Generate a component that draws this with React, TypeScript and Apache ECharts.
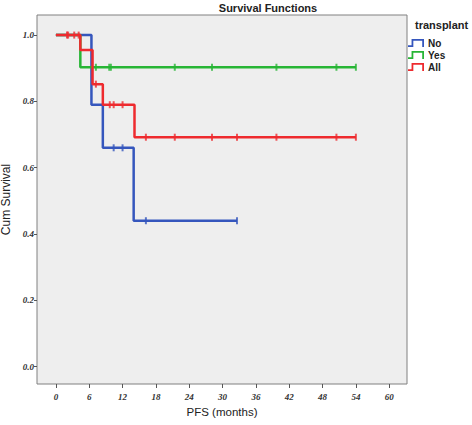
import React, { useEffect, useRef } from "react";
import * as echarts from "echarts";

const xTicks: number[] = [0, 6, 12, 18, 24, 30, 36, 42, 48, 54, 60];
const yTicks: number[] = [0, 0.2, 0.4, 0.6, 0.8, 1.0];

const groupNames: string[] = ["No", "Yes", "All"];
const groupColors: string[] = ["#3556BD", "#27B535", "#EE2A2E"];

// Kaplan–Meier steps: [time, survival after event]
const noSteps: [number, number][] = [[0, 1], [6.4, 0.79], [8.45, 0.66], [14.0, 0.44], [32.6, 0.44]];
const yesSteps: [number, number][] = [[0, 1], [4.4, 0.903], [54.0, 0.903]];
const allSteps: [number, number][] = [[0, 1], [4.4, 0.955], [6.6, 0.852], [8.45, 0.79], [14.15, 0.692], [54.0, 0.692]];

// censoring times
const noCensor: number[] = [10.4, 12.0, 16.2, 32.6];
const yesCensor: number[] = [7.2, 9.6, 9.9, 21.4, 28.1, 39.7, 50.5, 54.0];
const allCensor: number[] = [2.0, 2.2, 3.3, 4.1, 7.2, 9.7, 10.4, 12.0, 16.2, 21.4, 28.1, 32.6, 39.7, 50.5, 54.0];

function survAt(steps: [number, number][], t: number): number {
  let s = 1;
  for (const [tt, v] of steps) {
    if (tt <= t) s = v;
  }
  return s;
}

const stepsList = [noSteps, yesSteps, allSteps];
const censorList = [noCensor, yesCensor, allCensor];

const legendIcon = "path://M0,7L4,7L4,0L18,0L18,9L16,9L16,2L6,2L6,9L0,9Z";

export default function App() {
  const ref = useRef<HTMLDivElement>(null);
  useEffect(() => {
    if (!ref.current) return;
    const chart = echarts.init(ref.current, undefined, { renderer: "svg" });
    const series: any[] = [];
    groupNames.forEach((name, i) => {
      series.push({
        name,
        type: "line",
        step: "end",
        data: stepsList[i],
        showSymbol: false,
        symbol: "none",
        lineStyle: { color: groupColors[i], width: 2.5 },
        itemStyle: { color: groupColors[i] },
        z: 2 + i,
      });
    });
    groupNames.forEach((name, i) => {
      series.push({
        name: name + " censored",
        type: "scatter",
        data: censorList[i].map((t) => [t, survAt(stepsList[i], t)]),
        symbol: "rect",
        symbolSize: [2, 7],
        itemStyle: { color: groupColors[i] },
        z: 5 + i,
      });
    });
    chart.setOption({
      animation: false,
      backgroundColor: "#ffffff",
      title: [
        {
          text: "Survival Functions",
          left: 268,
          top: 2,
          padding: 0,
          textAlign: "center",
          textStyle: { fontFamily: "Liberation Sans", fontSize: 11, fontWeight: "bold", color: "#222" },
        },
        {
          text: "transplant",
          left: 415,
          top: 19,
          padding: 0,
          textStyle: { fontFamily: "Liberation Sans", fontSize: 11, fontWeight: "bold", color: "#222" },
        },
      ],
      legend: {
        orient: "vertical",
        left: 408,
        top: 37,
        itemWidth: 18,
        itemHeight: 8,
        itemGap: 0,
        padding: 0,
        data: groupNames.map((n) => ({ name: n, icon: legendIcon })),
        textStyle: { fontFamily: "Liberation Sans", fontSize: 10, fontWeight: "bold", color: "#222", lineHeight: 12, padding: [0, 0, 0, -2] },
      },
      grid: {
        left: 37,
        top: 15,
        right: 65,
        bottom: 41,
        outerBoundsMode: "none",
        containLabel: false,
        show: true,
        backgroundColor: "#eeeeee",
        borderColor: "#808080",
        borderWidth: 1,
      },
      xAxis: {
        type: "value",
        min: -3.4,
        max: 63.2,
        name: "PFS (months)",
        nameLocation: "middle",
        nameGap: 21,
        nameTextStyle: { fontFamily: "Liberation Sans", fontSize: 11.5, color: "#222" },
        axisLine: { show: false, onZero: false },
        axisTick: { show: true, length: 4, lineStyle: { color: "#555" }, customValues: xTicks },
        axisLabel: {
          customValues: xTicks,
          fontFamily: "Liberation Serif",
          fontSize: 9,
          fontWeight: "bold",
          fontStyle: "italic",
          color: "#333",
          margin: 8,
        },
        splitLine: { show: false },
      },
      yAxis: {
        type: "value",
        min: -0.0525,
        max: 1.0606,
        name: "Cum Survival",
        nameLocation: "middle",
        nameGap: 22,
        nameTextStyle: { fontFamily: "Liberation Sans", fontSize: 12, color: "#222" },
        axisLine: { show: false, onZero: false },
        axisTick: { show: true, length: 3, lineStyle: { color: "#555" }, customValues: yTicks },
        axisLabel: {
          customValues: yTicks,
          formatter: (v: number) => v.toFixed(1),
          fontFamily: "Liberation Serif",
          fontSize: 9,
          fontWeight: "bold",
          fontStyle: "italic",
          color: "#333",
          margin: 3,
        },
        splitLine: { show: false },
      },
      series,
    });
    return () => chart.dispose();
  }, []);
  return <div ref={ref} style={{ width: 472, height: 425, position: "absolute", left: 0, top: 0 }} />;
}
